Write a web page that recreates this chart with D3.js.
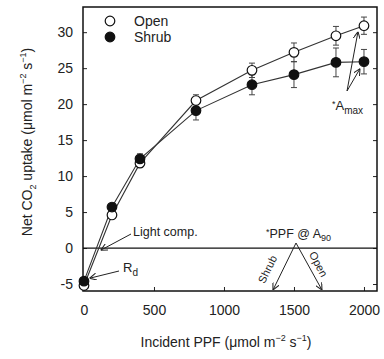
<!doctype html>
<html>
<head>
<meta charset="utf-8" />
<script src="https://cdn.jsdelivr.net/npm/d3@7"></script>
<style>
  body { margin: 0; background: #fff; }
  svg text { font-family: "Liberation Sans", Arial, sans-serif; fill: #222; }
  .axis path { display: none; }
  .axis line { stroke: #222; }
</style>
</head>
<body>
<svg id="chart" width="384" height="359"></svg>
<script>
// data
var ppf        = [0, 200, 400, 800, 1200, 1500, 1800, 2000];
var openMean   = [-5.2, 4.6, 11.8, 20.5, 24.7, 27.2, 29.5, 30.9];
var openErr    = [0.4, 0.4, 0.6, 0.8, 1.0, 1.3, 1.3, 1.2];
var shrubMean  = [-4.6, 5.7, 12.4, 19.1, 22.7, 24.1, 25.8, 25.9];
var shrubErr   = [0.4, 0.4, 0.7, 1.3, 1.4, 1.8, 2.0, 1.7];
var xTicks     = [0, 500, 1000, 1500, 2000];
var yTicks     = [-5, 0, 5, 10, 15, 20, 25, 30];
var a90        = {shrub: 1350, open: 1700};

var svg = d3.select("#chart");
var L = 83, R = 377, T = 7, B = 291;
var x = d3.scaleLinear().domain([-7, 2093]).range([L, R]);
var y = d3.scaleLinear().domain([-5.97, 33.5]).range([B, T]);
var fmt = function (d) { return String(d); };

// axes, inward ticks
svg.append("g").attr("class", "axis").attr("transform", "translate(0," + B + ")")
  .call(d3.axisBottom(x).tickValues(xTicks).tickFormat(fmt).tickSizeInner(-4).tickSizeOuter(0).tickPadding(14))
  .selectAll("text").attr("font-size", 14);
svg.append("g").attr("class", "axis").attr("transform", "translate(" + L + ",0)")
  .call(d3.axisLeft(y).tickValues(yTicks).tickFormat(fmt).tickSizeInner(-4).tickSizeOuter(0).tickPadding(10))
  .selectAll("text").attr("font-size", 14);
svg.append("g").attr("class", "axis").attr("transform", "translate(" + R + ",0)")
  .call(d3.axisRight(y).tickValues(yTicks).tickSizeInner(-4).tickSizeOuter(0).tickFormat(""));

svg.append("rect").attr("x", L).attr("y", T).attr("width", R - L).attr("height", B - T)
  .attr("fill", "none").attr("stroke", "#111").attr("stroke-width", 1.5);
svg.append("line").attr("x1", L).attr("x2", R).attr("y1", y(0)).attr("y2", y(0))
  .attr("stroke", "#111").attr("stroke-width", 1.2);

var series = [
  {name: "Open", mean: openMean, err: openErr, fill: "#fff"},
  {name: "Shrub", mean: shrubMean, err: shrubErr, fill: "#111"}
];

var line = d3.line().x(function (d) { return x(d[0]); }).y(function (d) { return y(d[1]); });

series.forEach(function (s) {
  var pts = ppf.map(function (p, i) { return [p, s.mean[i], s.err[i]]; });
  svg.append("path").attr("d", line(pts)).attr("fill", "none").attr("stroke", "#333").attr("stroke-width", 1.1);
  var eb = svg.append("g").attr("stroke", "#444").attr("stroke-width", 1);
  pts.forEach(function (d) {
    eb.append("line").attr("x1", x(d[0])).attr("x2", x(d[0])).attr("y1", y(d[1] - d[2])).attr("y2", y(d[1] + d[2]));
    [d[1] - d[2], d[1] + d[2]].forEach(function (v) {
      eb.append("line").attr("x1", x(d[0]) - 3).attr("x2", x(d[0]) + 3).attr("y1", y(v)).attr("y2", y(v));
    });
  });
});
series.forEach(function (s) {
  svg.append("g").selectAll("circle").data(ppf).join("circle")
    .attr("cx", function (d) { return x(d); })
    .attr("cy", function (d, i) { return y(s.mean[i]); })
    .attr("r", 4.8).attr("fill", s.fill).attr("stroke", "#111").attr("stroke-width", 1.2);
});

// legend
series.forEach(function (s, i) {
  svg.append("circle").attr("cx", 110).attr("cy", 21 + i * 16).attr("r", 4.8)
    .attr("fill", s.fill).attr("stroke", "#111").attr("stroke-width", 1.2);
  svg.append("text").attr("x", 134).attr("y", 26 + i * 16).attr("font-size", 14).text(s.name);
});

// arrows
svg.append("defs").append("marker").attr("id", "ah").attr("viewBox", "0 0 10 10")
  .attr("refX", 10).attr("refY", 5).attr("markerWidth", 7).attr("markerHeight", 7)
  .attr("orient", "auto").attr("markerUnits", "userSpaceOnUse")
  .append("path").attr("d", "M0,0L10,5L0,10").attr("fill", "none").attr("stroke", "#222").attr("stroke-width", 1.5);

function arrow(x1, y1, x2, y2) {
  svg.append("line").attr("x1", x1).attr("y1", y1).attr("x2", x2).attr("y2", y2)
    .attr("stroke", "#222").attr("stroke-width", 1).attr("marker-end", "url(#ah)");
}

// light compensation
svg.append("text").attr("x", 133).attr("y", 236).attr("font-size", 12.5).text("Light comp.");
arrow(131, 234, x(120), y(-0.3));

// Rd
var rd = svg.append("text").attr("x", 123).attr("y", 272).attr("font-size", 13);
rd.append("tspan").text("R");
rd.append("tspan").attr("dy", 4).attr("font-size", 10).text("d");
arrow(119, 271, x(40), y(-4.2));

// PPF @ A90
var pp = svg.append("text").attr("x", 266).attr("y", 238).attr("font-size", 12.5);
pp.append("tspan").attr("dy", -3).attr("font-size", 9).text("*");
pp.append("tspan").attr("dy", 3).text("PPF @ A");
pp.append("tspan").attr("dy", 3).attr("font-size", 9).text("90");
var apexX = 296, apexY = 243;
arrow(apexX, apexY, x(a90.shrub), B - 1);
arrow(apexX, apexY, x(a90.open), B - 1);
svg.append("text").attr("font-size", 11).attr("text-anchor", "middle")
  .attr("transform", "translate(271,271) rotate(-64)").text("Shrub");
svg.append("text").attr("font-size", 11).attr("text-anchor", "middle")
  .attr("transform", "translate(315,266) rotate(62)").text("Open");

// Amax
var am = svg.append("text").attr("x", 332).attr("y", 110).attr("font-size", 13);
am.append("tspan").attr("dy", -3).attr("font-size", 9).text("*");
am.append("tspan").attr("dy", 3).text("A");
am.append("tspan").attr("dy", 4).attr("font-size", 10).text("max");
arrow(347, 91, x(2000) - 6, y(openMean[7]) + 6);
arrow(347, 91, x(2000) - 4, y(shrubMean[7]) + 7);

// axis titles
var xt = svg.append("text").attr("x", 226).attr("y", 347).attr("font-size", 14).attr("text-anchor", "middle");
xt.append("tspan").text("Incident PPF (\u03bcmol m");
xt.append("tspan").attr("dy", -6).attr("font-size", 9).text("\u22122");
xt.append("tspan").attr("dy", 6).text(" s");
xt.append("tspan").attr("dy", -6).attr("font-size", 9).text("\u22121");
xt.append("tspan").attr("dy", 6).text(")");

var yt = svg.append("text").attr("transform", "translate(32,142) rotate(-90)")
  .attr("font-size", 14).attr("text-anchor", "middle");
yt.append("tspan").text("Net CO");
yt.append("tspan").attr("dy", 4).attr("font-size", 9).text("2");
yt.append("tspan").attr("dy", -4).text(" uptake (\u03bcmol m");
yt.append("tspan").attr("dy", -6).attr("font-size", 9).text("\u22122");
yt.append("tspan").attr("dy", 6).text(" s");
yt.append("tspan").attr("dy", -6).attr("font-size", 9).text("\u22121");
yt.append("tspan").attr("dy", 6).text(")");
</script>
</body>
</html>
